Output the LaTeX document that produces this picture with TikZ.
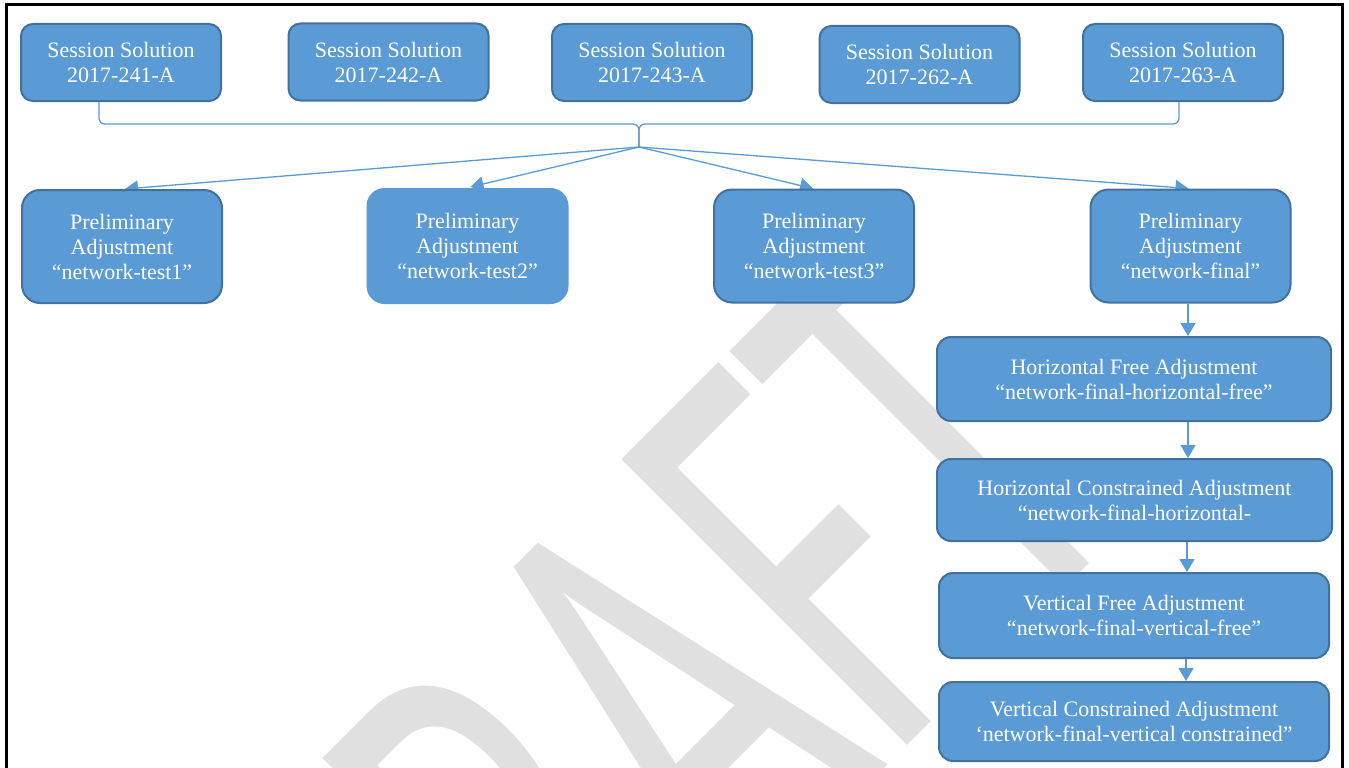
\documentclass[tikz,border=0pt]{standalone}
\usepackage{fontspec}
\setmainfont{Liberation Serif}
\newfontfamily\wmfont{Carlito}
\usetikzlibrary{arrows.meta}
\definecolor{boxfill}{RGB}{91,155,213}
\definecolor{boxline}{RGB}{65,113,156}
\definecolor{connblue}{RGB}{91,155,213}
\definecolor{wmgray}{RGB}{224,224,224}
\pgfdeclarelayer{paper}
\pgfdeclarelayer{wmlayer}
\pgfdeclarelayer{bglayer}
\pgfsetlayers{paper,wmlayer,bglayer,main}
\begin{document}
\begin{tikzpicture}[x=1pt,y=-1pt,
  box/.style={draw=boxline, line width=2pt, fill=boxfill, text=white, align=center,
    inner sep=0pt, font=\fontsize{22}{25}\selectfont},
  sbox/.style={box, minimum width=200pt, minimum height=77pt, rounded corners=12pt},
  pbox/.style={box, minimum width=200pt, minimum height=113pt, rounded corners=18pt},
  rbox/.style={box, rounded corners=14pt},
  connline/.style={draw=connblue, line width=1.3pt},
  arr/.style={connline, -{Triangle[length=13pt,width=15pt]}},
]
\useasboundingbox (0,0) rectangle (1349,768);
\begin{pgfonlayer}{paper}
\fill[white] (0,0) rectangle (1349,768);
\end{pgfonlayer}

% watermark
\begin{pgfonlayer}{wmlayer}
\begin{scope}
\clip (0,0) rectangle (1349,768);
\begin{scope}[shift={(425,1228)}, rotate=45, xscale=0.6]
\node[transform shape, anchor=base west, inner sep=0pt, text=wmgray,
  font=\wmfont\fontsize{630}{630}\selectfont] (wmk) at (0,0) {DRAFT};
\end{scope}
\end{scope}
\end{pgfonlayer}

% frame
\draw[line width=3pt] (6.5,800) -- (6.5,5) -- (1342.5,5) -- (1342.5,800);

% session solutions
\node[sbox] (s1) at (121,62.5) {Session Solution\\2017-241-A};
\node[sbox] (s2) at (388.5,62) {Session Solution\\2017-242-A};
\node[sbox] (s3) at (652,62.5) {Session Solution\\2017-243-A};
\node[sbox] (s4) at (919.5,64.5) {Session Solution\\2017-262-A};
\node[sbox] (s5) at (1183,62.5) {Session Solution\\2017-263-A};

% preliminary adjustments
\node[pbox] (p1) at (122,246.5) {Preliminary\\Adjustment\\“network-test1”};
\node[pbox, draw=none, minimum width=202pt, minimum height=116pt] (p2) at (467.5,246) {Preliminary\\Adjustment\\“network-test2”};
\node[pbox] (p3) at (814,246) {Preliminary\\Adjustment\\“network-test3”};
\node[pbox] (p4) at (1190.5,246) {Preliminary\\Adjustment\\“network-final”};

% right column
\node[rbox, minimum width=394pt, minimum height=84pt] (hf) at (1134,379) {Horizontal Free Adjustment\\“network-final-horizontal-free”};
\node[rbox, minimum width=395pt, minimum height=82pt] (hc) at (1134.5,500) {Horizontal Constrained Adjustment\\“network-final-horizontal-};
\node[rbox, minimum width=390pt, minimum height=85pt] (vf) at (1134,615.5) {Vertical Free Adjustment\\“network-final-vertical-free”};
\node[rbox, minimum width=390pt, minimum height=79pt] (vc) at (1134,721.5) {Vertical Constrained Adjustment\\‘network-final-vertical constrained”};

% connectors
\begin{pgfonlayer}{bglayer}
\coordinate (bk) at (639,124);
\coordinate (tip) at (639,147);
\coordinate (col) at (1188,0);
\draw[connline, rounded corners=6pt] ([xshift=-22pt]s1.south) |- (bk) -- (tip);
\draw[connline, rounded corners=6pt] ([xshift=-4pt]s5.south) |- (bk) -- (tip);
\draw[arr] (tip) -- ([xshift=3pt]p1.north);
\draw[arr] (tip) -- ([xshift=3pt]p2.north);
\draw[arr] (tip) -- ([xshift=-1pt]p3.north);
\draw[arr] (tip) -- ([xshift=-2pt]p4.north);
\draw[arr] (p4.south -| col) -- (hf.north -| col);
\draw[arr] (hf.south -| col) -- (hc.north -| col);
\draw[arr] ([xshift=-1pt]hc.south -| col) -- ([xshift=-1pt]vf.north -| col);
\draw[arr] ([xshift=-2pt]vf.south -| col) -- ([xshift=-2pt]vc.north -| col);
\end{pgfonlayer}
\end{tikzpicture}
\end{document}
